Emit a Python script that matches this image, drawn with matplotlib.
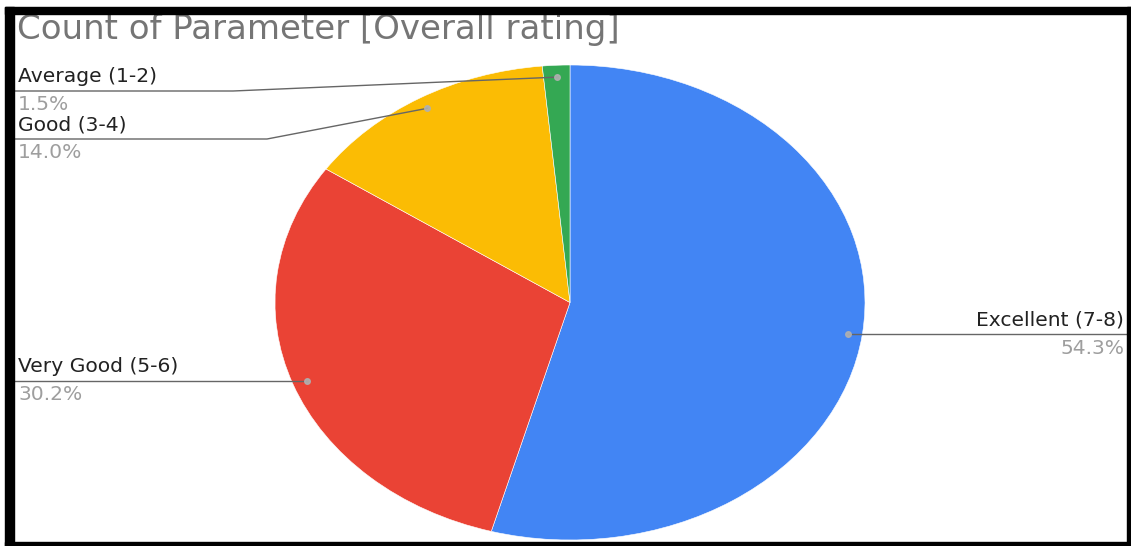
import numpy as np
import matplotlib.pyplot as plt
from matplotlib.patches import Rectangle
from matplotlib.lines import Line2D

# Chart data (Google Sheets style pie, clockwise from 12 o'clock)
labels = ['Excellent (7-8)', 'Very Good (5-6)', 'Good (3-4)', 'Average (1-2)']
shares = [54.3, 30.2, 14.0, 1.5]
colors = ['#4285F4', '#EA4335', '#FBBC04', '#34A853']
title = 'Count of Parameter [Overall rating]'

W, H = 1131, 546
fig = plt.figure(figsize=(W / 100, H / 100), dpi=100)
plt.rcParams['font.family'] = ['DejaVu Sans']

# pie axes placed in pixel box, stretched into an ellipse
px0, px1, py0, py1 = 275, 865, 65, 540
ax = fig.add_axes([px0 / W, 1 - py1 / H, (px1 - px0) / W, (py1 - py0) / H])
wedges, _ = ax.pie(shares, colors=colors, startangle=90, counterclock=False,
                   wedgeprops=dict(edgecolor='white', linewidth=0.4))
ax.set_aspect('auto')
ax.set_xlim(-1, 1)
ax.set_ylim(-1, 1)
ax.axis('off')

# overlay in pixel coordinates (y down) for labels, leader lines and frame
ov = fig.add_axes([0, 0, 1, 1], facecolor='none')
ov.set_xlim(0, W)
ov.set_ylim(H, 0)
ov.axis('off')

ov.text(17, 29, title, fontsize=24.5, color='#757575', va='center', ha='left')

# label layout: (line y, side, elbow x)
layout = {
    'Excellent (7-8)': (334, 'right', None),
    'Very Good (5-6)': (381, 'left', None),
    'Good (3-4)': (139, 'left', 267),
    'Average (1-2)': (91, 'left', 233),
}

fig.canvas.draw()
cum = 0.0
for lab, val in zip(labels, shares):
    mid = np.deg2rad(90 - (cum + val / 2) / 100 * 360)
    cum += val
    r = 0.95
    dx, dy = ax.transData.transform((r * np.cos(mid), r * np.sin(mid)))
    dot_x, dot_y = ov.transData.inverted().transform((dx, dy))
    ly, side, elbow = layout[lab]
    if side == 'right':
        xs, ys = [dot_x, 1127], [ly, ly]
        tx, ha = 1124, 'right'
    else:
        if elbow is None:
            xs, ys = [12, dot_x], [ly, ly]
        else:
            xs, ys = [12, elbow, dot_x], [ly, ly, dot_y]
        tx, ha = 18, 'left'
    ov.add_line(Line2D(xs, ys, color='#666666', linewidth=1.0))
    ov.plot(dot_x, ly if elbow is None else dot_y, 'o', color='#b0b0b0',
            markersize=4, alpha=0.9)
    ov.text(tx, ly - 14, lab, fontsize=14.6, color='#222222', ha=ha, va='center')
    ov.text(tx, ly + 14, f'{val:.1f}%', fontsize=14.6, color='#9e9e9e', ha=ha, va='center')

# black frame
for (x, y, w, h) in [(5, 7, 9, 539), (5, 7, 1126, 7), (1127, 7, 4, 539), (5, 542, 1126, 4)]:
    ov.add_patch(Rectangle((x, y), w, h, color='black', zorder=5))

fig.savefig('out.png', dpi=100)
